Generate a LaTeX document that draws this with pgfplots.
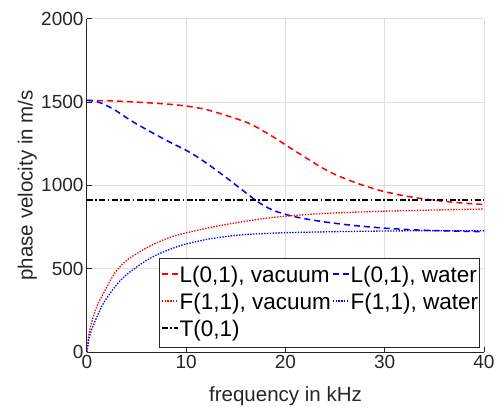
\documentclass[border=0pt]{standalone}
\usepackage{fontspec}
\setmainfont{Liberation Sans}
\usepackage{pgfplots}
\pgfplotsset{compat=1.18}
\definecolor{axc}{RGB}{38,38,38}
\definecolor{gridc}{RGB}{222,222,222}
\begin{document}
\begin{tikzpicture}
\begin{axis}[
  at={(0,0)}, anchor=south west,
  scale only axis, width=397bp, height=333.3bp,
  xmin=0, xmax=40, ymin=0, ymax=2000,
  xtick={0,10,20,30,40}, ytick={0,500,1000,1500,2000},
  axis x line*=bottom, axis y line*=left,
  axis line style={-, axc, line width=1bp},
  tick align=inside, major tick length=5bp,
  tick style={axc, line width=1bp},
  grid=major, grid style={gridc, line width=1bp},
  /pgf/number format/assume math mode=true,
  /pgf/number format/1000 sep={},
  tick label style={font=\fontsize{19bp}{22bp}\selectfont, text=axc},
  label style={font=\fontsize{20.5bp}{24bp}\selectfont, text=axc},
  xlabel={frequency in kHz},
  ylabel={phase velocity in m/s},
  xlabel style={at={(axis description cs:0.5,-0.150)}, anchor=base},
  ylabel style={at={(axis description cs:-0.1368,0.5)}, anchor=base},
  legend columns=2,
  legend cell align=left,
  legend style={at={(axis description cs:0.9899,0.012)}, anchor=south east,
    draw=axc, line width=0.8bp, fill=white, inner xsep=1.5bp, inner ysep=4bp,
    font=\fontsize{22.5bp}{27bp}\selectfont, column sep=1bp,
    nodes={inner sep=0pt, text height=20bp, text depth=7bp}},
  legend image code/.code={\draw[#1, line width=1.6bp] (0bp,2bp) -- (16bp,2bp);},
]
% L(0,1) vacuum
\addplot[red, line width=1.5bp, dash pattern=on 6bp off 4bp, smooth] coordinates {
(0,1510) (2,1508) (4,1503) (6,1496) (8,1488) (10,1476) (12,1455) (14,1420)
(16,1380) (17,1352) (18,1318) (19,1282) (20,1243) (21,1205) (22,1168) (23,1130)
(24,1095) (25,1065) (26,1040) (27,1017) (28,997) (29,978) (30,962) (32,937)
(34,918) (36,904) (38,893) (40,885)};
\addlegendentry{L(0,1), vacuum}
% L(0,1) water
\addplot[blue, line width=1.5bp, dash pattern=on 6bp off 4bp, smooth] coordinates {
(0,1510) (1,1502) (2,1478) (3,1445) (4,1405) (5,1368) (6,1335) (7,1302)
(8,1270) (9,1240) (10,1210) (11,1175) (12,1135) (13,1092) (14,1048) (15,1002)
(16,956) (17,910) (18,872) (19,845) (20,826) (21,811) (22,799) (24,780)
(26,765) (28,753) (30,743) (33,733) (36,727) (40,722)};
\addlegendentry{L(0,1), water}
% F(1,1) vacuum
\addplot[red, line width=1.3bp, dash pattern=on 1.4bp off 1.4bp, smooth] coordinates {
(0,0) (0.2,110) (0.5,185) (1,275) (1.5,335) (2,390) (2.5,445) (3,490) (4,550)
(5,590) (6,625) (7,655) (8,680) (9,700) (10,715) (12,742) (14,765) (16,785)
(18,802) (20,815) (23,828) (26,837) (30,845) (35,852) (40,858)};
\addlegendentry{F(1,1), vacuum}
% F(1,1) water
\addplot[blue, line width=1.3bp, dash pattern=on 1.4bp off 1.4bp, smooth] coordinates {
(0,0) (0.2,80) (0.5,140) (1,210) (1.5,275) (2,325) (3,405) (4,465) (5,510)
(6,550) (7,582) (8,608) (9,630) (10,648) (12,675) (14,693) (16,705) (18,711)
(20,716) (25,722) (30,726) (35,728) (40,728)};
\addlegendentry{F(1,1), water}
% T(0,1)
\addplot[black, line width=1.2bp, dash pattern=on 6bp off 2.5bp on 1.5bp off 2.5bp] coordinates {
(0,912) (40,912)};
\addlegendentry{T(0,1)}
\end{axis}
\pgfresetboundingbox
\useasboundingbox (-87bp,-55bp) rectangle (410bp,352bp);
\end{tikzpicture}
\end{document}
